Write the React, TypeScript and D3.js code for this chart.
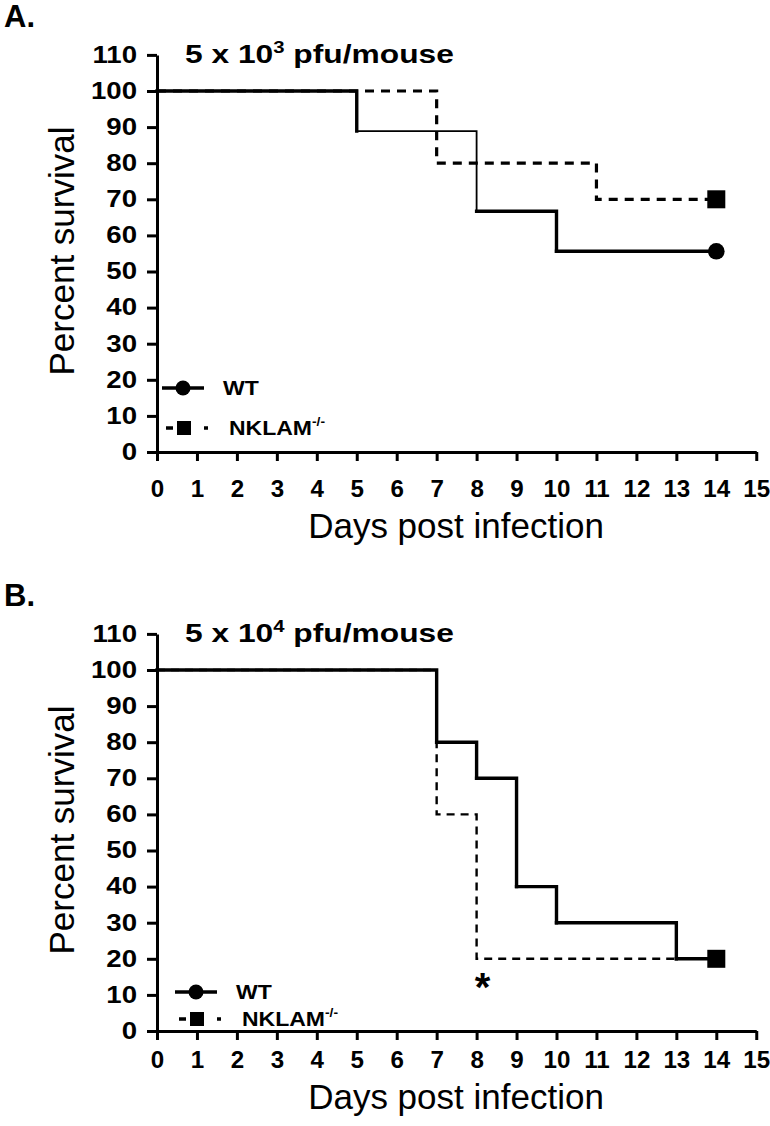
import React, { useRef, useEffect } from 'react';
import * as d3 from 'd3';

// Kaplan-Meier survival data
const xTicks = [0, 1, 2, 3, 4, 5, 6, 7, 8, 9, 10, 11, 12, 13, 14, 15];
const yTicks = [0, 10, 20, 30, 40, 50, 60, 70, 80, 90, 100, 110];

const wtADays = [0, 5, 8, 10, 14];
const wtASurv = [100, 88.9, 66.7, 55.6, 55.6];
const wtAThin = [5]; // step that is drawn with a thinner stroke in the original
const nkADays = [0, 7, 11, 14];
const nkASurv = [100, 80, 70, 70];

const wtBDays = [0, 7, 8, 9, 10, 13, 14];
const wtBSurv = [100, 80, 70, 40, 30, 20, 20];
const nkBDays = [0, 7, 8, 14];
const nkBSurv = [100, 60, 20, 20];

const panelLetters = ['A.', 'B.'];
const doseExp = ['3', '4'];

const FONT = '"Liberation Sans", Arial, sans-serif';

interface PanelCfg {
    letter: string;
    exp: string;
    wt: { day: number; s: number }[];
    nk: { day: number; s: number }[];
    wtThin: number[];
    nkWidth: number;
    nkDash: string;
    legend: { wtY: number; nkY: number; x0: number };
    asterisk: boolean;
    bottomShift: number;
}

const zip = (days: number[], surv: number[]) => days.map((d, i) => ({ day: d, s: surv[i] }));

const App: React.FC = () => {
    const svgRef = useRef<SVGSVGElement | null>(null);

    useEffect(() => {
        const svg = d3.select(svgRef.current);
        svg.selectAll('*').remove();

        const panels: PanelCfg[] = [
            {
                letter: panelLetters[0], exp: doseExp[0],
                wt: zip(wtADays, wtASurv), nk: zip(nkADays, nkASurv), wtThin: wtAThin,
                nkWidth: 3.2, nkDash: '9,7',
                legend: { wtY: 388, nkY: 428, x0: 162 },
                asterisk: false,
                bottomShift: 0,
            },
            {
                letter: panelLetters[1], exp: doseExp[1],
                wt: zip(wtBDays, wtBSurv), nk: zip(nkBDays, nkBSurv), wtThin: [],
                nkWidth: 2.4, nkDash: '8,6',
                legend: { wtY: 992 - 579, nkY: 1019 - 579, x0: 175 },
                asterisk: true,
                bottomShift: -8,
            },
        ];

        const offset = 579;

        panels.forEach((p, idx) => {
            const g = svg.append('g').attr('transform', `translate(0, ${idx * offset})`);

            const x = d3.scaleLinear().domain([0, 15]).range([157, 157 + 15 * 39.95]);
            const y = d3.scaleLinear().domain([0, 110]).range([452, 452 - 110 * 3.61]);

            // Panel letter
            g.append('text')
                .attr('x', 4).attr('y', 27)
                .attr('font-family', FONT).attr('font-weight', 'bold').attr('font-size', 31)
                .text(p.letter);

            // Dose title
            const t = g.append('text')
                .attr('transform', 'translate(185, 63) scale(1.27, 1)')
                .attr('font-family', FONT).attr('font-weight', 'bold').attr('font-size', 25);
            t.append('tspan').text('5 x 10');
            t.append('tspan').attr('font-size', 16).attr('dy', -10).text(p.exp);
            t.append('tspan').attr('dy', 10).text(' pfu/mouse');

            // Axes
            const yAxis = d3.axisLeft(y).tickValues(yTicks).tickSize(10).tickSizeOuter(0).tickPadding(10);
            const xAxis = d3.axisBottom(x).tickValues(xTicks).tickSize(9).tickSizeOuter(0).tickPadding(20);

            const ya = g.append('g').attr('transform', `translate(${x(0)},0)`).call(yAxis);
            const xa = g.append('g').attr('transform', `translate(0,${y(0)})`).call(xAxis);

            [ya, xa].forEach(a => {
                a.attr('font-size', null);
                a.select('.domain').attr('stroke', '#000').attr('stroke-width', 3);
                a.selectAll('.tick line').attr('stroke', '#000').attr('stroke-width', 3);
                a.selectAll('.tick text')
                    .attr('font-family', FONT).attr('font-weight', 'bold').attr('font-size', 23)
                    .attr('fill', '#000');
            });
            ya.selectAll('.tick text').attr('x', null).attr('transform', 'translate(-20,0) scale(1.2,1)');
            xa.selectAll('.tick text').attr('y', null)
                .attr('transform', `translate(0,${29 + p.bottomShift}) scale(1.05,1)`);

            // Axis titles
            g.append('text')
                .attr('transform', `translate(74, 251) rotate(-90)`)
                .attr('text-anchor', 'middle')
                .attr('font-family', FONT).attr('font-size', 35)
                .text('Percent survival');
            g.append('text')
                .attr('x', 456).attr('y', 538 + p.bottomShift)
                .attr('text-anchor', 'middle')
                .attr('font-family', FONT).attr('font-size', 35)
                .text('Days post infection');

            const line = d3.line<{ day: number; s: number }>()
                .x(d => x(d.day))
                .y(d => y(d.s))
                .curve(d3.curveStepAfter);

            // NKLAM-/- dashed
            g.append('path')
                .datum(p.nk)
                .attr('d', line)
                .attr('fill', 'none')
                .attr('stroke', '#000')
                .attr('stroke-width', p.nkWidth)
                .attr('stroke-dasharray', p.nkDash);

            // WT solid, segment by segment so some steps can be thin
            p.wt.slice(0, -1).forEach((d, i) => {
                g.append('path')
                    .datum([d, p.wt[i + 1]])
                    .attr('d', line)
                    .attr('fill', 'none')
                    .attr('stroke', '#000')
                    .attr('stroke-linecap', 'square')
                    .attr('stroke-width', p.wtThin.includes(d.day) ? 1.8 : 3.4);
            });

            // End markers
            const wtEnd = p.wt[p.wt.length - 1];
            const nkEnd = p.nk[p.nk.length - 1];
            g.append('circle').attr('cx', x(wtEnd.day)).attr('cy', y(wtEnd.s)).attr('r', 8.3).attr('fill', '#000');
            g.append('rect')
                .attr('x', x(nkEnd.day) - 9).attr('y', y(nkEnd.s) - 9)
                .attr('width', 18).attr('height', 18).attr('fill', '#000');

            if (p.asterisk) {
                g.append('text')
                    .attr('x', x(8.15)).attr('y', y(20) + 42)
                    .attr('text-anchor', 'middle')
                    .attr('font-family', FONT).attr('font-weight', 'bold').attr('font-size', 40)
                    .text('*');
            }

            // Legend
            const L = p.legend;
            g.append('line')
                .attr('x1', L.x0).attr('x2', L.x0 + 42)
                .attr('y1', L.wtY).attr('y2', L.wtY)
                .attr('stroke', '#000').attr('stroke-width', 3.4);
            g.append('circle').attr('cx', L.x0 + 21).attr('cy', L.wtY).attr('r', 7.5).attr('fill', '#000');
            g.append('text')
                .attr('transform', `translate(${L.x0 + 61}, ${L.wtY + 7}) scale(1.15,1)`)
                .attr('font-family', FONT).attr('font-weight', 'bold').attr('font-size', 20)
                .text('WT');

            g.append('line')
                .attr('x1', L.x0 + 4).attr('x2', L.x0 + 46)
                .attr('y1', L.nkY).attr('y2', L.nkY)
                .attr('stroke', '#000').attr('stroke-width', 3.4)
                .attr('stroke-dasharray', '7,31,4,20');
            g.append('rect')
                .attr('x', L.x0 + 15).attr('y', L.nkY - 7)
                .attr('width', 14).attr('height', 14).attr('fill', '#000');
            const nt = g.append('text')
                .attr('transform', `translate(${L.x0 + 67}, ${L.nkY + 7}) scale(1.15,1)`)
                .attr('font-family', FONT).attr('font-weight', 'bold').attr('font-size', 20);
            nt.append('tspan').text('NKLAM');
            nt.append('tspan').attr('font-size', 12).attr('dy', -9).text('-/-');
        });
    }, []);

    return (
        <svg
            ref={svgRef}
            width={770}
            height={1126}
            style={{ position: 'absolute', left: 0, top: 0, background: '#fff' }}
        />
    );
};

export default App;
